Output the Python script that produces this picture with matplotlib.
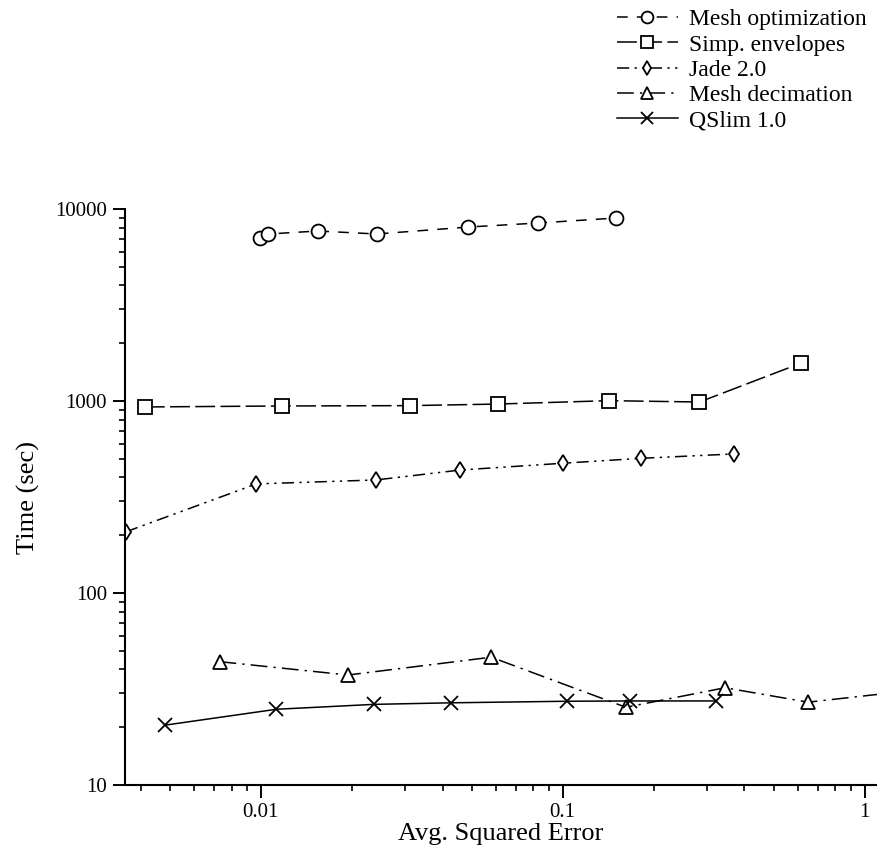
import matplotlib
matplotlib.use('Agg')
import matplotlib.pyplot as plt
from matplotlib.ticker import LogLocator, FixedLocator, FixedFormatter, NullFormatter

plt.rcParams['font.family'] = ['Liberation Serif', 'DejaVu Serif']

# values (log-log)
mesh_opt_x = [0.00992, 0.0106, 0.01545, 0.0242, 0.0484, 0.0826, 0.1498]
mesh_opt_y = [7060, 7410, 7680, 7410, 8050, 8450, 8970]

simp_x = [0.00413, 0.01174, 0.0311, 0.0609, 0.142, 0.284, 0.618]
simp_y = [931, 942, 946, 964, 1004, 988, 1578]

jade_x = [0.00358, 0.00967, 0.0241, 0.0458, 0.100, 0.182, 0.369]
jade_y = [208.5, 370, 388, 437, 474, 503, 530]

decim_x = [0.0073, 0.01945, 0.058, 0.162, 0.345, 0.650, 1.3]
decim_y = [43.9, 37.4, 46.3, 25.4, 32.1, 27.0, 30.5]

qslim_x = [0.00482, 0.01127, 0.0237, 0.0428, 0.103, 0.167, 0.321]
qslim_y = [20.5, 24.8, 26.3, 26.8, 27.3, 27.4, 27.4]

xticks = [0.01, 0.1, 1]
xtick_labels = ['0.01', '0.1', '1']
yticks = [10, 100, 1000, 10000]
ytick_labels = ['10', '100', '1000', '10000']

fig = plt.figure(figsize=(8.77, 8.67), dpi=100)
ax = fig.add_axes([125/877, 82/867, 1 - 125/877, (785-209)/867])

lw = 1.1
mk = dict(color='black', markerfacecolor='white', markeredgecolor='black',
          markeredgewidth=1.3, linewidth=lw)

ax.plot(mesh_opt_x, mesh_opt_y, marker='o', markersize=10, dashes=(7, 6),
        label='Mesh optimization', **mk)
ax.plot(simp_x, simp_y, marker='s', markersize=10, dashes=(13, 3.5),
        label='Simp. envelopes', **mk)
ax.plot(jade_x, jade_y, marker='d', markersize=8.5, dashes=(8, 3.5, 1.5, 3.5, 1.5, 3.5),
        label='Jade 2.0', **mk)
ax.plot(decim_x, decim_y, marker='^', markersize=9.5, dashes=(11, 4, 1.5, 4),
        label='Mesh decimation', **mk)
ax.plot(qslim_x, qslim_y, marker='x', markersize=10, linestyle='-',
        label='QSlim 1.0', **mk)

ax.set_xscale('log')
ax.set_yscale('log')
ax.set_xlim(0.00355, 1.1)
ax.set_ylim(10, 10000)

ax.xaxis.set_major_locator(FixedLocator(xticks))
ax.xaxis.set_major_formatter(FixedFormatter(xtick_labels))
ax.yaxis.set_major_locator(FixedLocator(yticks))
ax.yaxis.set_major_formatter(FixedFormatter(ytick_labels))
ax.xaxis.set_minor_locator(LogLocator(base=10, subs=range(2, 10), numticks=20))
ax.yaxis.set_minor_locator(LogLocator(base=10, subs=range(2, 10), numticks=20))
ax.xaxis.set_minor_formatter(NullFormatter())
ax.yaxis.set_minor_formatter(NullFormatter())

for side in ['top', 'right']:
    ax.spines[side].set_visible(False)
for side in ['left', 'bottom']:
    ax.spines[side].set_linewidth(1.5)

ax.tick_params(which='major', direction='out', length=9, width=1.4, labelsize=15, pad=4)
ax.tick_params(which='minor', direction='out', length=4, width=1.2)

ax.set_xlabel('Avg. Squared Error', fontsize=19, labelpad=1)
ax.set_ylabel('Time (sec)', fontsize=19, labelpad=11)

fig.legend(loc='upper left', bbox_to_anchor=(612/877, 1 - 4/867), frameon=False,
           fontsize=17, handlelength=2.6, handletextpad=0.45, labelspacing=0.16,
           borderpad=0.2, borderaxespad=0, markerscale=0.85)

fig.savefig('out.png', dpi=100)
